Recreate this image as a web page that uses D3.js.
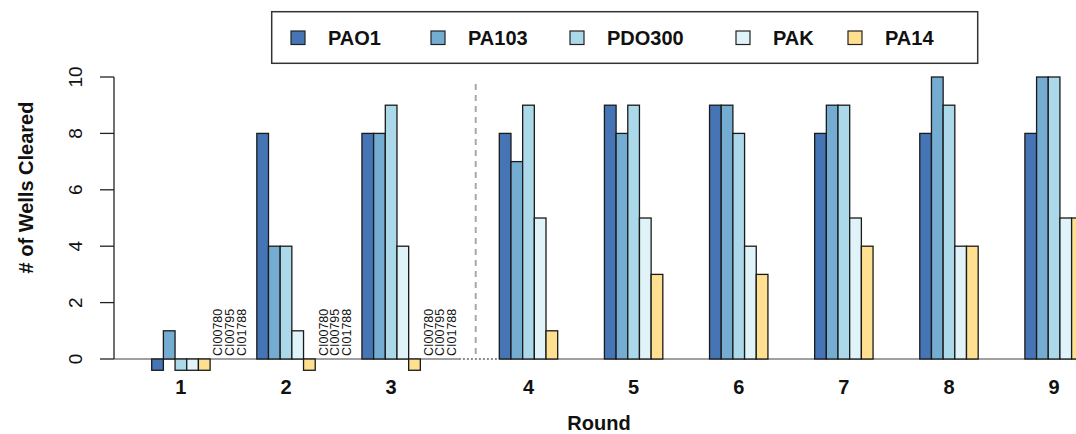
<!DOCTYPE html>
<html>
<head>
<meta charset="utf-8">
<script src="https://cdn.jsdelivr.net/npm/d3@7"></script>
<style>
  html, body { margin: 0; padding: 0; background: #fff; }
  svg { display: block; }
  text { font-family: "Liberation Sans", Arial, Helvetica, sans-serif; }
</style>
</head>
<body>
<svg id="chart" width="1076" height="434"></svg>
<script>
// ---- data ----
const rounds = ["1", "2", "3", "4", "5", "6", "7", "8", "9"];
const strains = ["PAO1", "PA103", "PDO300", "PAK", "PA14"];
const colors = ["#4575b4", "#74add1", "#abd9e9", "#e0f3f8", "#fee090"];
const PAO1   = [-0.4, 8, 8, 8, 9, 9, 8, 8, 8];
const PA103  = [1, 4, 8, 7, 8, 9, 9, 10, 10];
const PDO300 = [-0.4, 4, 9, 9, 9, 8, 9, 9, 10];
const PAK    = [-0.4, 1, 4, 5, 5, 4, 5, 4, 5];
const PA14   = [-0.4, -0.4, -0.4, 1, 3, 3, 4, 4, 5];
const seriesValues = [PAO1, PA103, PDO300, PAK, PA14];
const isolates = ["CI00780", "CI00795", "CI01788"];
const isolateRounds = ["1", "2", "3"];
const CI00780 = [0, 0, 0];
const CI00795 = [0, 0, 0];
const CI01788 = [0, 0, 0];
const isolateValues = [CI00780, CI00795, CI01788];
const yTicks = [0, 2, 4, 6, 8, 10];

// ---- layout ----
const svg = d3.select("#chart");
const slotsPerGroup = 9;
const extraGap = 2.76;      // extra slots between round 3 and round 4
const slotW = 11.68;
const x0 = 151.7;
const xs = d3.scaleLinear().domain([0, 1]).range([x0, x0 + slotW]);
const ys = d3.scaleLinear().domain([0, 10]).range([359, 77]);
const groupStart = (ri) => ri * slotsPerGroup + (ri >= 3 ? extraGap : 0);

svg.append("rect").attr("width", 1076).attr("height", 434).attr("fill", "#fff");

// baseline
const bl = svg.append("g").attr("stroke", "#a0a0a0").attr("stroke-width", 2);
bl.append("line").attr("x1", 114).attr("x2", xs(groupStart(2) + 8.3)).attr("y1", ys(0)).attr("y2", ys(0));
bl.append("line").attr("x1", xs(groupStart(2) + 8.3)).attr("x2", xs(groupStart(3))).attr("y1", ys(0)).attr("y2", ys(0))
  .attr("stroke-dasharray", "2,2").attr("stroke", "#8c8c8c");
bl.append("line").attr("x1", xs(groupStart(3))).attr("x2", 1076).attr("y1", ys(0)).attr("y2", ys(0));

// dashed separator
svg.append("line")
  .attr("x1", 475.7).attr("x2", 475.7)
  .attr("y1", 84).attr("y2", ys(0))
  .attr("stroke", "#a8a8a8").attr("stroke-width", 2)
  .attr("stroke-dasharray", "6,5");

// bars
const bars = [];
rounds.forEach((r, ri) => {
  strains.forEach((s, si) => {
    bars.push({ r, ri, slot: si, v: seriesValues[si][ri], fill: colors[si] });
  });
});
isolateRounds.forEach((r, k) => {
  const ri = rounds.indexOf(r);
  isolates.forEach((name, j) => {
    bars.push({ r, ri, slot: 5 + j, v: isolateValues[j][k], fill: "#fff" });
  });
});
svg.append("g").selectAll("rect").data(bars).join("rect")
  .attr("x", d => xs(groupStart(d.ri) + d.slot))
  .attr("width", d => xs(groupStart(d.ri) + d.slot + 1) - xs(groupStart(d.ri) + d.slot))
  .attr("y", d => ys(Math.max(0, d.v)))
  .attr("height", d => Math.abs(ys(d.v) - ys(0)))
  .attr("fill", d => d.fill)
  .attr("stroke", "#1a1a1a")
  .attr("stroke-width", 1.3);

// isolate labels
const isoLabels = [];
isolateRounds.forEach(r => {
  const ri = rounds.indexOf(r);
  isolates.forEach((name, k) => isoLabels.push({ ri, k, name }));
});
svg.append("g").selectAll("text").data(isoLabels).join("text")
  .attr("transform", d => `translate(${xs(groupStart(d.ri) + 5 + d.k + 0.5) + 2},${ys(0) - 3}) rotate(-90)`)
  .attr("dy", "0.36em")
  .attr("text-anchor", "start")
  .attr("font-size", 12.5)
  .attr("fill", "#111")
  .text(d => d.name);

// y axis
const ya = svg.append("g");
ya.append("line").attr("x1", 114).attr("x2", 114).attr("y1", ys(0)).attr("y2", ys(10))
  .attr("stroke", "#222").attr("stroke-width", 1.3);
ya.selectAll("line.t").data(yTicks).join("line").attr("class", "t")
  .attr("x1", 100).attr("x2", 114).attr("y1", d => ys(d)).attr("y2", d => ys(d))
  .attr("stroke", "#222").attr("stroke-width", 1.3);
ya.selectAll("text").data(yTicks).join("text")
  .attr("transform", d => `translate(82,${ys(d)}) rotate(-90)`)
  .attr("text-anchor", "middle")
  .attr("font-size", 19)
  .attr("fill", "#111")
  .text(d => d);

svg.append("text")
  .attr("transform", "translate(33,187.5) rotate(-90)")
  .attr("text-anchor", "middle")
  .attr("font-size", 20).attr("font-weight", "bold")
  .attr("fill", "#111")
  .text("# of Wells Cleared");

// x tick labels
svg.append("g").selectAll("text").data(rounds).join("text")
  .attr("x", (d, i) => xs(groupStart(i) + 2.5))
  .attr("y", 394)
  .attr("text-anchor", "middle")
  .attr("font-size", 20).attr("font-weight", "bold")
  .attr("fill", "#111")
  .text(d => d);

svg.append("text")
  .attr("x", 599).attr("y", 429.5)
  .attr("text-anchor", "middle")
  .attr("font-size", 20).attr("font-weight", "bold")
  .attr("fill", "#111")
  .text("Round");

// legend
const leg = svg.append("g");
leg.append("rect").attr("x", 271.7).attr("y", 11.7).attr("width", 706).attr("height", 51.6)
  .attr("fill", "#fff").attr("stroke", "#333").attr("stroke-width", 1.5);
const legX = [291, 431, 570, 736, 848];
strains.forEach((s, i) => {
  leg.append("rect").attr("x", legX[i]).attr("y", 31).attr("width", 14).attr("height", 13.5)
    .attr("fill", colors[i]).attr("stroke", "#222").attr("stroke-width", 1.2);
  leg.append("text").attr("x", legX[i] + 37).attr("y", 45)
    .attr("font-size", 20).attr("font-weight", "bold").attr("fill", "#111")
    .text(s);
});
</script>
</body>
</html>
